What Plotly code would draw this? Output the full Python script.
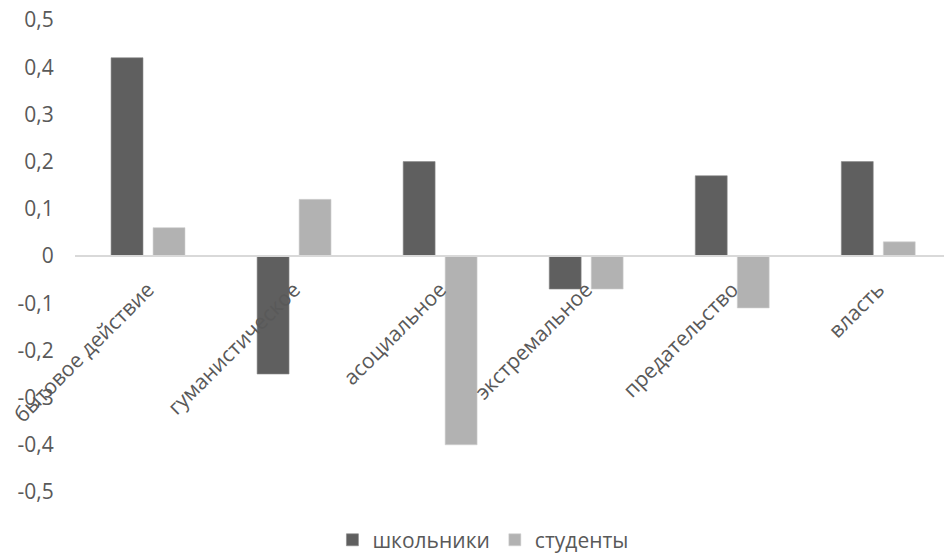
import plotly.graph_objects as go

categories = ["бытовое действие", "гуманистическое", "асоциальное",
              "экстремальное", "предательство", "власть"]
schoolchildren = [0.42, -0.25, 0.20, -0.07, 0.17, 0.20]
students = [0.06, 0.12, -0.40, -0.07, -0.11, 0.03]
series_names = ["школьники", "студенты"]
y_ticks = [0.5, 0.4, 0.3, 0.2, 0.1, 0, -0.1, -0.2, -0.3, -0.4, -0.5]
y_tick_labels = [f"{v:g}".replace(".", ",") for v in y_ticks]

font_family = "Open Sans"
text_color = "#595959"
fs = 21

fig = go.Figure()
fig.add_trace(go.Bar(x=categories, y=schoolchildren, name=series_names[0],
                     marker=dict(color="#5f5f5f", line=dict(color="#8a8a8a", width=0.6))))
fig.add_trace(go.Bar(x=categories, y=students, name=series_names[1],
                     marker=dict(color="#b2b2b2", line=dict(color="#d0d0d0", width=0.6))))

fig.update_layout(
    width=944, height=555,
    margin=dict(l=75, r=0, t=20, b=63, autoexpand=False),
    paper_bgcolor="white", plot_bgcolor="white",
    barmode="group", bargap=0.425, bargroupgap=0.24,
    font=dict(family=font_family, size=fs, color=text_color),
    showlegend=True,
    legend=dict(orientation="h", x=0.47, xanchor="center", y=-0.102, yanchor="middle",
                font=dict(size=fs, color=text_color),
                traceorder="normal"),
    xaxis=dict(anchor="free", position=0.5, range=[-0.5, 5.45],
               showline=True, linecolor="#d9d9d9", linewidth=2,
               showgrid=False, zeroline=False, tickangle=-45, ticks="",
               ticklabelstandoff=12,
               tickfont=dict(size=fs, color=text_color), automargin=False),
    yaxis=dict(range=[-0.5, 0.5], domain=[0, 1], tickvals=y_ticks, ticktext=y_tick_labels,
               showgrid=False, zeroline=False, showline=False,
               ticks="outside", ticklen=16, tickcolor="rgba(0,0,0,0)",
               tickfont=dict(size=fs, color=text_color), automargin=False),
)

fig.write_html("out.html")
